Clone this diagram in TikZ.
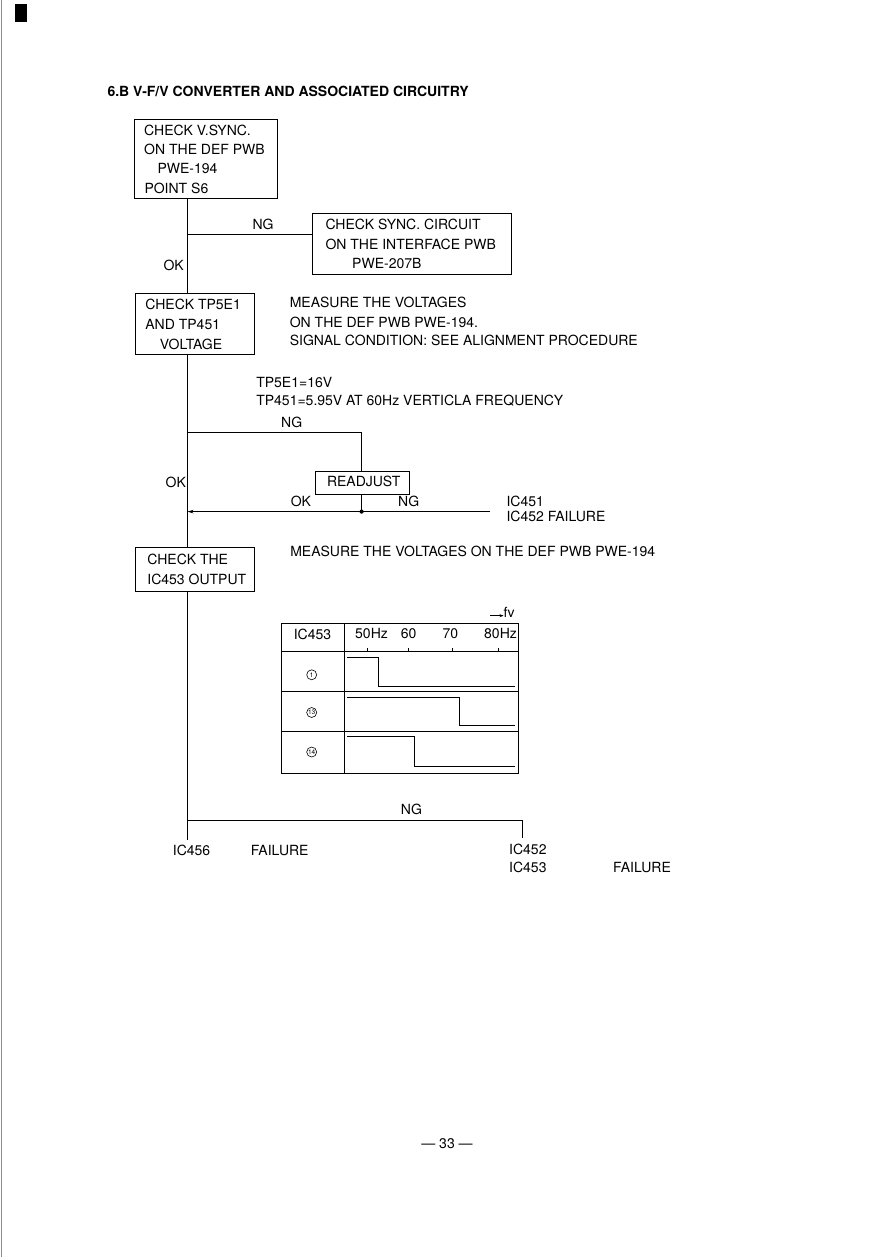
\documentclass[tikz,border=0pt]{standalone}
\usepackage{fontspec}
\setmainfont{TeX Gyre Heros}
\usetikzlibrary{arrows.meta}
\begin{document}
\begin{tikzpicture}[x=1pt,y=-1pt,
  font=\fontsize{14}{16}\selectfont,
  box/.style={draw, line width=0.7pt, inner sep=0pt, anchor=north west},
  txt/.style={anchor=base west, inner sep=0pt},
  ctxt/.style={anchor=base, inner sep=0pt},
  wire/.style={line width=0.7pt},
  thin/.style={line width=0.5pt},
  circnum/.style={circle, draw, line width=0.6pt, inner sep=0pt, minimum size=10pt, font=\fontsize{6.5}{6.5}\selectfont}]
\useasboundingbox (0,0) rectangle (888,1257);

% page marks
\fill (14.5,4) rectangle (27,22.5);
\draw[black!45, line width=0.6pt] (1.5,0) -- (1.5,1257);

% title
\node[txt, font=\fontsize{14}{16}\selectfont\bfseries] (title) at (107.3,96.7) {6.B V-F/V CONVERTER AND ASSOCIATED CIRCUITRY};

% box 1
\node[box, minimum width=142.4pt, minimum height=78.7pt] (b1) at (134.3,119) {};
\node[txt] (b1a) at (144,135.7) {CHECK V.SYNC.};
\node[txt] (b1b) at (144,155) {ON THE DEF PWB};
\node[txt] (b1c) at (157.3,174) {PWE-194};
\node[txt] (b1d) at (144.3,193.3) {POINT S6};

% box 2
\node[box, minimum width=199pt, minimum height=61.3pt] (b2) at (312,212.7) {};
\node[txt] (b2a) at (325.3,229.3) {CHECK SYNC. CIRCUIT};
\node[txt] (b2b) at (325.3,250) {ON THE INTERFACE PWB};
\node[txt] (b2c) at (352,269) {PWE-207B};

% box 3
\node[box, minimum width=119.3pt, minimum height=60.9pt] (b3) at (135.1,292.8) {};
\node[txt] (b3a) at (145.2,309.7) {CHECK TP5E1};
\node[txt] (b3b) at (145.2,329.4) {AND TP451};
\node[txt] (b3c) at (159.7,349.3) {VOLTAGE};

\node[txt] (n3a) at (289.6,307) {MEASURE THE VOLTAGES};
\node[txt] (n3b) at (289.6,327) {ON THE DEF PWB PWE-194.};
\node[txt] (n3c) at (289.6,345.6) {SIGNAL CONDITION: SEE ALIGNMENT PROCEDURE};
\node[txt] (v1) at (256.1,387.5) {TP5E1=16V};
\node[txt] (v2) at (256.1,405.8) {TP451=5.95V AT 60Hz VERTICLA FREQUENCY};

% readjust
\node[box, minimum width=93.9pt, minimum height=22.7pt] (rb) at (315.3,471) {};
\node[txt] (rbt) at (326.8,486.9) {READJUST};

% box 4
\node[box, minimum width=119pt, minimum height=44.5pt] (b4) at (135.2,546.5) {};
\node[txt] (b4a) at (147.2,564.4) {CHECK THE};
\node[txt] (b4b) at (147.2,584) {IC453 OUTPUT};
\node[txt] (n4) at (290.1,556) {MEASURE THE VOLTAGES ON THE DEF PWB PWE-194};

% coordinates on main line
\coordinate (m0) at (187.5,197.7);
\coordinate (j1) at (187.5,234);
\coordinate (j2) at (187.5,432.1);
\coordinate (j3) at (187.5,511.6);
\coordinate (j4) at (187.5,820.7);
\coordinate (mend) at (187.5,840);
\coordinate (k2) at (361.6,432.1);
\coordinate (dot) at (361.6,511.6);
\coordinate (e1) at (490,511.6);
\coordinate (k4) at (522.3,820.7);
\coordinate (k4e) at (522.3,838.3);

% main line
\draw[wire] (b1.south -| m0) -- (b3.north -| m0);
\draw[wire] (b3.south -| m0) -- (b4.north -| m0);
\draw[wire] (b4.south -| m0) -- (mend);

% branches
\draw[wire] (j1) -- (j1 -| b2.west);
\node[txt] (ng1) at (252.3,230) {NG};
\node[txt] (ok1) at (163.3,270) {OK};

\draw[wire] (j2) -- (k2) -- (rb.north -| k2);
\node[txt] (ng2) at (281,427) {NG};
\draw[wire] (rb.south -| dot) -- (dot);
\draw[wire] (e1) -- (dot);
\draw[wire, -{Stealth[length=6pt,width=3.5pt]}] (dot) -- (j3);
\fill (dot) circle (2.1pt);
\node[txt] (ok3) at (290.6,506.5) {OK};
\node[txt] (ng3) at (398,506.5) {NG};
\node[txt] (f1) at (506.3,506.5) {IC451};
\node[txt] (f2) at (506.3,521) {IC452 FAILURE};
\node[txt] (ok2) at (165.5,487) {OK};

% table
\node[draw, thin, inner sep=0pt, anchor=north west, minimum width=237.3pt, minimum height=150.3pt] (tbl) at (281,623) {};
\coordinate (cx) at (344,623);
\draw[thin] (cx) -- (cx |- tbl.south);
\draw[thin] (tbl.west |- 0,651.7) -- (tbl.east |- 0,651.7);
\draw[thin] (tbl.west |- 0,691.7) -- (tbl.east |- 0,691.7);
\draw[thin] (tbl.west |- 0,731.7) -- (tbl.east |- 0,731.7);
\node[ctxt] (h0) at (312.5,639.3) {IC453};
\node[txt] (h1) at (355,638.3) {50Hz};
\node[txt] (h2) at (400.7,638.3) {60};
\node[txt] (h3) at (442.3,638.3) {70};
\node[txt] (h4) at (484,638.3) {80Hz};
\foreach \tx in {367,408,452,498} \draw[thin] (\tx,651.7) -- (\tx,647.5);
\coordinate (fa) at (490,615.7);
\node[txt] (fv) at (503.5,617.3) {fv};
\draw[thin, -{Stealth[length=4pt,width=3pt]}] (fa) -- (fv.west |- fa);
\node[circnum] (c1) at (311.7,674.8) {1};
\node[circnum] (c13) at (311.7,712.5) {\kern-0.3pt13\kern-0.3pt};
\node[circnum] (c14) at (311.7,752) {\kern-0.3pt14\kern-0.3pt};
\draw[wire] (347,657.7) -- (378,657.7) -- (378,686.5) -- (515,686.5);
\draw[wire] (347,697) -- (459,697) -- (459,725.5) -- (515,725.5);
\draw[wire] (347,736) -- (414,736) -- (414,766) -- (515,766);

% bottom
\draw[wire] (j4) -- (k4) -- (k4e);
\node[txt] (ng4) at (400.7,814.3) {NG};
\node[txt] (r1) at (172.7,855.7) {IC456};
\node[txt] (r2) at (250.7,855.7) {FAILURE};
\node[txt] (r3) at (509,854) {IC452};
\node[txt] (r4) at (509,872.3) {IC453};
\node[txt] (r5) at (613,872.3) {FAILURE};

% page number
\node[ctxt] (pg) at (447,1148) {--- 33 ---};
\end{tikzpicture}
\end{document}
